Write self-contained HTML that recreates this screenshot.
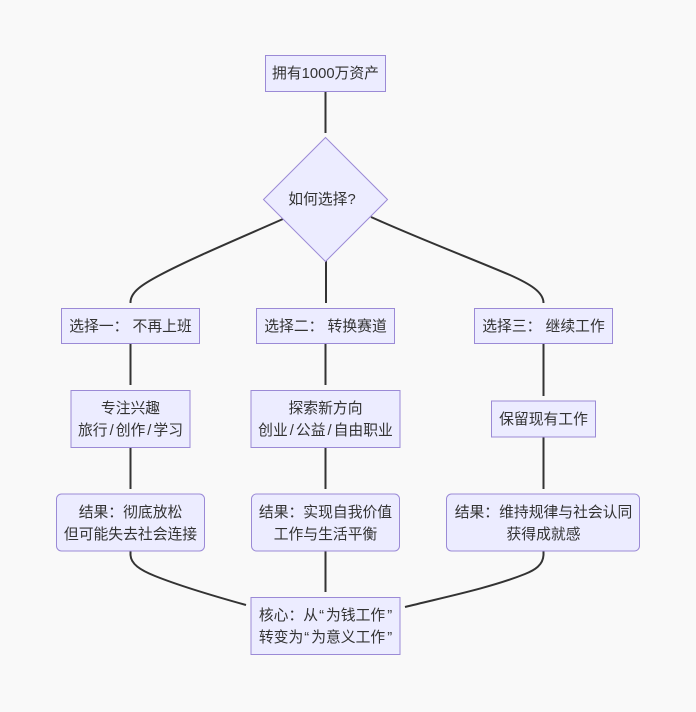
<!DOCTYPE html>
<html><head><meta charset="utf-8"><style>
html,body{margin:0;padding:0;background:#f9f9f9}
svg{display:block}
text{font-family:"Liberation Sans","WenQuanYi Zen Hei","Noto Sans CJK SC",sans-serif;font-size:14.8px;fill:#333;text-anchor:middle}
.n{fill:#ECECFF;stroke:#9b8ad6;stroke-width:1}
.e{fill:none;stroke:#333;stroke-width:2}
</style></head><body>
<svg width="696" height="712" viewBox="0 0 696 712" xmlns="http://www.w3.org/2000/svg">
<rect width="696" height="712" fill="#f9f9f9"/>
<path class="e" d="M325.500 91V133"/>
<path class="e" d="M283 219C240 238 190 259 160 275C143 284 130 292 130.500 303"/>
<path class="e" d="M326 261V303"/>
<path class="e" d="M371 217C420 239 470 258 510 275C530 284 543.500 292 543.500 303"/>
<path class="e" d="M130.500 344V385"/>
<path class="e" d="M325.500 344V385"/>
<path class="e" d="M543.500 344V396"/>
<path class="e" d="M130.500 447V489"/>
<path class="e" d="M325.500 447V489"/>
<path class="e" d="M543.500 437V489"/>
<path class="e" d="M130.500 551V555C131 564 140 570 155 576C175 584 210 595 246 605"/>
<path class="e" d="M325.500 551V592"/>
<path class="e" d="M543.500 551V555C543 565 535 570 525 574C490 588 445 597 405 607"/>
<rect class="n" x="265.500" y="55.500" width="120" height="36"/>
<polygon class="n" points="325.500,137.500 387.500,199.500 325.500,261.500 263.500,199.500"/>
<rect class="n" x="61.500" y="308.500" width="138" height="35"/>
<rect class="n" x="256.500" y="308.500" width="138" height="35"/>
<rect class="n" x="474.500" y="308.500" width="138" height="35"/>
<rect class="n" x="71" y="390.500" width="119" height="57"/>
<rect class="n" x="251" y="390.500" width="149" height="57"/>
<rect class="n" x="491.500" y="401" width="104" height="36"/>
<rect class="n" x="56.500" y="494" width="148" height="57" rx="5"/>
<rect class="n" x="251.500" y="494" width="148" height="57" rx="5"/>
<rect class="n" x="446.500" y="494" width="193" height="57" rx="5"/>
<rect class="n" x="251" y="597.500" width="149" height="57"/>
<text x="325.500" y="78">拥有1000万资产</text>
<text x="322" y="204">如何选择?</text>
<text x="130.500" y="331">选择一： 不再上班</text>
<text x="325.500" y="331">选择二： 转换赛道</text>
<text x="543.500" y="331">选择三： 继续工作</text>
<text x="130.500" y="413">专注兴趣</text>
<text x="130.500" y="435">旅行<tspan dx="2">/</tspan><tspan dx="2">创作</tspan><tspan dx="2">/</tspan><tspan dx="2">学习</tspan></text>
<text x="325.500" y="413">探索新方向</text>
<text x="325.500" y="435">创业<tspan dx="2">/</tspan><tspan dx="2">公益</tspan><tspan dx="2">/</tspan><tspan dx="2">自由职业</tspan></text>
<text x="543.500" y="424">保留现有工作</text>
<text x="130.500" y="517">结果：彻底放松</text>
<text x="130.500" y="539">但可能失去社会连接</text>
<text x="325.500" y="517">结果：实现自我价值</text>
<text x="325.500" y="539">工作与生活平衡</text>
<text x="543.500" y="517">结果：维持规律与社会认同</text>
<text x="543.500" y="539">获得成就感</text>
<text x="325.500" y="620">核心：从<tspan dx="1">“</tspan><tspan dx="2">为钱工作</tspan><tspan dx="2">”</tspan></text>
<text x="325.500" y="642">转变为<tspan dx="1">“</tspan><tspan dx="2">为意义工作</tspan><tspan dx="2">”</tspan></text>
</svg>
</body></html>
